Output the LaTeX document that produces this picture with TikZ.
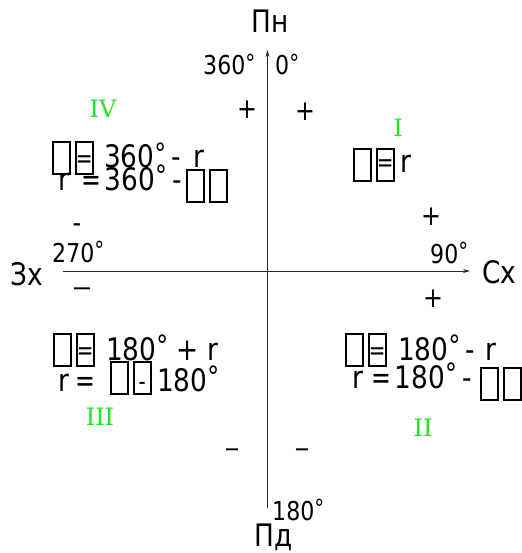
\documentclass[tikz,border=0pt]{standalone}
\usepackage{fontspec}
\usepackage{graphicx}
\setmainfont[FakeStretch=0.85]{DejaVu Sans}
\newfontfamily\romfont{DejaVu Serif}
\usetikzlibrary{arrows.meta}
\definecolor{qgreen}{RGB}{35,230,35}
\definecolor{axisgray}{RGB}{40,40,40}
\newcommand\tofu[1][5pt]{{\setlength\fboxsep{0pt}\setlength\fboxrule{1.9pt}\fbox{\rule[-#1]{0pt}{30pt}\hspace{15pt}}}}
\newcommand\tofupair[2][5pt]{\tofu[#1]\hspace{4pt}\tofu[#1]\llap{\makebox[19pt]{\raisebox{1pt}{\fontsize{26}{26}\selectfont\scalebox{0.9}[1]{#2}}}}}
\newcommand\dg{\raisebox{0.14em}{\scalebox{0.9}{°}}}
\newcommand\eq{\scalebox{0.9}[1]{=}}
\tikzset{
  frm/.style={inner sep=0pt, anchor=base west, font=\fontsize{31}{31}\selectfont},
  lbl/.style={inner sep=0pt, anchor=base west, font=\fontsize{26}{26}\selectfont},
  axl/.style={inner sep=0pt, font=\fontsize{31}{31}\selectfont},
  sgn/.style={inner sep=0pt, font=\fontsize{28}{28}\selectfont},
  rom/.style={inner sep=0pt, text=qgreen, font=\romfont\fontsize{24}{24}\selectfont},
  axis/.style={draw=axisgray, line width=1pt, -{Stealth[length=7pt,width=4pt]}}
}
\begin{document}
\begin{tikzpicture}[x=1pt,y=-1pt]
\useasboundingbox (0,0) rectangle (521,553);
% axes
\coordinate (S) at (267.5,508);
\coordinate (N) at (267.5,50);
\coordinate (W) at (63,271);
\coordinate (E) at (470,271);
\draw[axis] (S) -- (N);
\draw[axis] (W) -- (E);
% axis labels
\node[axl, anchor=base] (Pn) at (270,33) {Пн};
\node[axl, anchor=base] (Pd) at (274,546) {Пд};
\node[axl, anchor=base west] (Zx) at (10,285) {Зх};
\node[axl, anchor=base west] (Sx) at (482,283) {Сх};
% degree labels
\node[lbl] (d360) at (203,75) {360\dg};
\node[lbl] (d0) at (275,75) {0\dg};
\node[lbl] (d270) at (52,262) {270\dg};
\node[lbl] (d90) at (430,263) {90\dg};
\node[lbl] (d180) at (272,520) {180\dg};
% signs
\node[sgn] (p1) at (247,110) {+};
\node[sgn] (p2) at (305,112) {+};
\node[sgn] (p3) at (431,217) {+};
\node[sgn] (p4) at (433,299) {+};
\node[sgn] (m1) at (77,228) {-};
\node[sgn] (m2) at (82,292) {\scalebox{1.68}[1]{–}};
\node[sgn] (m3) at (232,453) {\scalebox{1.26}[1]{–}};
\node[sgn] (m4) at (302,453) {\scalebox{1.26}[1]{–}};
% quadrant numerals
\node[rom] (rIV) at (103,109) {IV};
\node[rom] (rI) at (398,128) {I};
\node[rom] (rIII) at (100,417) {III};
\node[rom] (rII) at (423,428) {II};
% quadrant IV
\node[frm] (q4a) at (52,168) {\tofupair{=}};
\node[frm] (q4b) at (104,168) {360\dg\,-\hspace{12pt}r};
\node[frm] (q4c) at (58,190) {r\hspace{12pt}\eq\hspace{4pt}360\dg\,-};
\node[frm] (q4d) at (186,190) {\tofupair[11pt]{}};
% quadrant I
\node[frm] (q1a) at (353,173) {\tofupair[7pt]{=}};
\node[frm] (q1b) at (400,173) {r};
% quadrant III
\node[frm] (q3a) at (53,360) {\tofupair{=}};
\node[frm] (q3b) at (106,360) {180\dg\ + r};
\node[frm] (q3c) at (58,391) {r\hspace{6pt}\eq};
\node[frm] (q3d) at (110,391) {\tofupair[2pt]{-}};
\node[frm] (q3e) at (157,391) {180\dg};
% quadrant II
\node[frm] (q2a) at (345,360) {\tofupair{=}};
\node[frm] (q2b) at (398,360) {180\dg\,-\hspace{10pt}r};
\node[frm] (q2c) at (352,388) {r\hspace{8pt}\eq\hspace{4pt}180\dg\,-};
\node[frm] (q2d) at (480,388) {\tofupair[11pt]{}};
\end{tikzpicture}
\end{document}
